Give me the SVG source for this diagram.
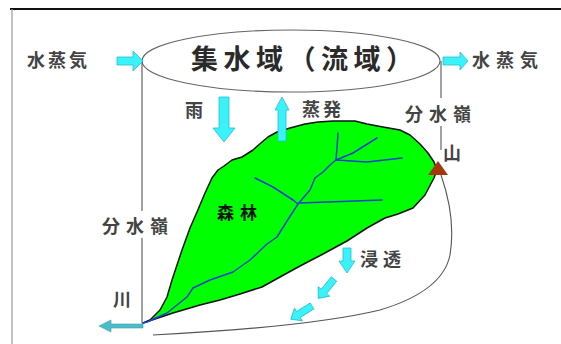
<svg xmlns="http://www.w3.org/2000/svg" width="561" height="344" viewBox="0 0 561 344">
  <style>
    .lbl { font-family: "Noto Sans CJK JP", "Noto Sans", sans-serif; font-size: 18px; font-weight: bold; fill: #444; }
    .title { font-family: "Noto Sans CJK JP", "Noto Sans", sans-serif; font-size: 27px; font-weight: bold; fill: #2a2a2a; letter-spacing: 5.5px; }
    .forest-lbl { font-family: "Noto Sans CJK JP", "Noto Sans", sans-serif; font-size: 17px; font-weight: bold; fill: #111; letter-spacing: 6px; }
    .guide { fill: none; stroke: #555; stroke-width: 1.1; }
    .flow { fill: #3cf2fa; stroke: #25bfd0; stroke-width: 0.8; stroke-linejoin: round; }
    .river { fill: none; stroke: #1f3fcf; stroke-width: 1.5; stroke-linejoin: round; stroke-linecap: round; }
  </style>
  <defs>
    <path id="dart" d="M0,-3.5 H16 V-7.5 L25,0 L16,7.5 V3.5 H0 Z"/>
  </defs>

  <rect width="561" height="344" fill="#fff"/>

  <!-- page frame -->
  <line x1="10" y1="9" x2="561" y2="9" stroke="#111" stroke-width="2"/>
  <line x1="12" y1="9" x2="12" y2="344" stroke="#999" stroke-width="1.2"/>

  <!-- catchment cylinder top -->
  <g id="catchment">
    <ellipse cx="291" cy="61" rx="149" ry="31" fill="none" stroke="#666" stroke-width="1.1"/>
    <text class="title" x="191" y="69">集水域（流域）</text>
  </g>

  <!-- forest covered basin -->
  <g id="forest">
    <path d="M143,323 L150,320 L160,310 L167,297 L172,280 L177,265 L182,250 L190,228 L197,212 L205,193 L212,178 L218,170 L224,166 L232,160 L242,157 L253,150 L262,142 L268,137 L277,132 L290,128 L305,124 L318,122 L333,121 L355,121 L367,124 L383,127 L400,130 L410,135 L420,144 L428,153 L434,162 L437,170 L434,178 L425,195 L413,208 L398,214 L385,218 L367,228 L347,241 L323,254 L300,266 L280,277 L262,287 L240,294 L220,300 L200,305 L173,313 Z" fill="#00ff00" stroke="#111" stroke-width="1.5" stroke-linejoin="round"/>
    <text class="forest-lbl" x="217" y="219">森林</text>
  </g>

  <!-- river network -->
  <g id="river-network">
    <path class="river" d="M143,323 L147,322 L167,313 L187,297 L193,288 L210,280 L233,272 L250,260 L267,244 L277,237 L287,221 L298,204 L310,190 L315,178 L323,172 L330,165 L336,160"/>
    <path class="river" d="M336,160 L337,148 L338,133"/>
    <path class="river" d="M336,160 L353,153 L377,138"/>
    <path class="river" d="M336,160 L367,162 L402,158"/>
    <path class="river" d="M300,203 L382,200"/>
    <path class="river" d="M255,178 L273,187 L293,200 L298,204"/>
  </g>

  <!-- summit -->
  <g id="mountain">
    <polygon points="438,161 428,175 448,175" fill="#a3380c"/>
    <text class="lbl" x="443" y="160">山</text>
  </g>

  <g id="connectors">
    <!-- drainage divides -->
    <line class="guide" x1="142" y1="61" x2="142" y2="211"/>
    <line class="guide" x1="142" y1="238" x2="142" y2="323"/>
    <line class="guide" x1="441" y1="61" x2="441" y2="98"/>
    <line class="guide" x1="441" y1="126" x2="441" y2="150"/>
    <!-- groundwater boundary -->
    <path class="guide" d="M153,335 C250,330 330,322 380,310 C420,298 445,280 450,255 C455,225 448,195 441,175"/>

    <!-- vapour in / out -->
    <polygon class="flow" points="117,57 133,57 133,51 143,61 133,71 133,65 117,65"/>
    <polygon class="flow" points="443,57 460,57 460,52 468,61 460,70 460,65 443,65"/>
    <!-- rain and evaporation -->
    <polygon class="flow" points="219,97 229,97 229,128 235,128 224,142 213,128 219,128"/>
    <polygon class="flow" points="282,97 289,110 286,110 286,141 278,141 278,110 275,110"/>
    <!-- infiltration -->
    <polygon class="flow" points="343,248 351,248 351,261 355,261 347,273 339,261 343,261"/>
    <use href="#dart" class="flow" transform="translate(334,279) rotate(129)"/>
    <use href="#dart" class="flow" transform="translate(312,306) rotate(148)"/>
    <!-- river outflow -->
    <polygon points="143,324 111,324 111,320 99,326 111,332 111,328 143,328" fill="#4bbcc8" stroke="#3a9fb0" stroke-width="0.6"/>
  </g>

  <!-- labels -->
  <g id="labels">
    <text class="lbl" x="27" y="67" letter-spacing="3">水蒸気</text>
    <text class="lbl" x="472" y="67" letter-spacing="6">水蒸気</text>
    <text class="lbl" x="185" y="117">雨</text>
    <text class="lbl" x="302" y="116" letter-spacing="3">蒸発</text>
    <text class="lbl" x="405" y="121" letter-spacing="6">分水嶺</text>
    <text class="lbl" x="102" y="233" letter-spacing="6">分水嶺</text>
    <text class="lbl" x="113" y="306">川</text>
    <text class="lbl" x="360" y="266" letter-spacing="5">浸透</text>
  </g>
</svg>
